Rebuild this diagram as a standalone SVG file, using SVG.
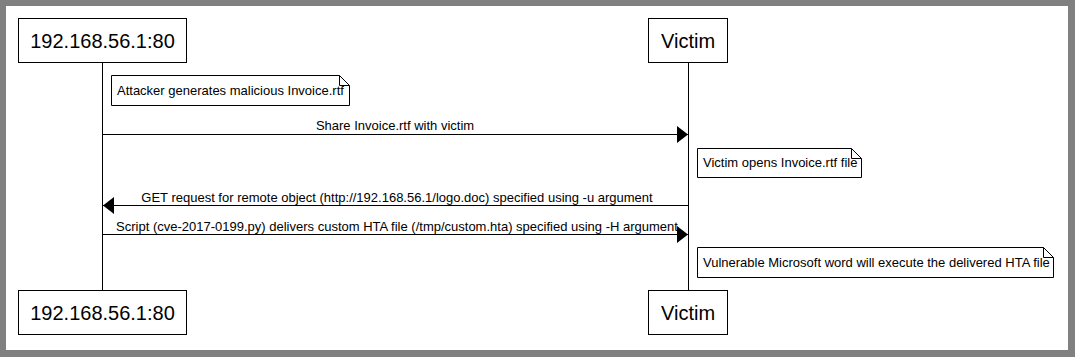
<svg xmlns="http://www.w3.org/2000/svg" width="1075" height="357" viewBox="0 0 1075 357">
<style>
.box{fill:#fff;stroke:#000;stroke-width:1}
.pt{font-family:"Liberation Sans",Arial,sans-serif;font-size:20px;fill:#000;text-anchor:middle}
.lbl{font-family:"Liberation Sans",Arial,sans-serif;font-size:13px;fill:#000}
.life{stroke:#000;stroke-width:1;fill:none}
.msg{stroke:#000;stroke-width:1;fill:none}
.fold{fill:none;stroke:#000;stroke-width:1}
</style>
<defs>
<marker id="ah" viewBox="0 0 11 17" refX="11" refY="8.5" markerWidth="11" markerHeight="17" markerUnits="userSpaceOnUse" orient="auto">
<path d="M0,0 L11,8.5 L0,17 Z" fill="#000"/>
</marker>
</defs>
<rect x="0" y="0" width="1075" height="357" fill="#808080"/>
<rect x="6" y="6" width="1062" height="344" fill="#fff"/>
<g id="lifelines">
<line class="life" x1="102.5" y1="62" x2="102.5" y2="290"/>
<line class="life" x1="688.5" y1="62" x2="688.5" y2="290"/>
</g>
<g id="attacker-top"><rect class="box" x="18.5" y="18.5" width="168" height="44"/><text class="pt" x="102.5" y="47.5">192.168.56.1:80</text></g>
<g id="victim-top"><rect class="box" x="648.5" y="18.5" width="79" height="44"/><text class="pt" x="688" y="47.5">Victim</text></g>
<g id="attacker-bottom"><rect class="box" x="18.5" y="290.5" width="168" height="44"/><text class="pt" x="102.5" y="319.5">192.168.56.1:80</text></g>
<g id="victim-bottom"><rect class="box" x="648.5" y="290.5" width="79" height="44"/><text class="pt" x="688" y="319.5">Victim</text></g>
<g id="note1">
<path class="box" d="M111.5,75.5 H339.5 L349.5,85.5 V105.5 H111.5 Z"/>
<path class="fold" d="M339.5,75.5 V85.5 H349.5"/>
<text class="lbl" x="117" y="95">Attacker generates malicious Invoice.rtf</text>
</g>
<g id="note2">
<path class="box" d="M697.5,148.5 H851.5 L861.5,158.5 V177.5 H697.5 Z"/>
<path class="fold" d="M851.5,148.5 V158.5 H861.5"/>
<text class="lbl" x="703" y="167">Victim opens Invoice.rtf file</text>
</g>
<g id="note3">
<path class="box" d="M697.5,247.5 H1043.5 L1053.5,257.5 V277.5 H697.5 Z"/>
<path class="fold" d="M1043.5,247.5 V257.5 H1053.5"/>
<text class="lbl" x="703" y="267">Vulnerable Microsoft word will execute the delivered HTA file</text>
</g>
<g id="connectors">
<line class="msg" x1="102.5" y1="134.5" x2="688" y2="134.5" marker-end="url(#ah)"/>
<text class="lbl" x="395" y="130" text-anchor="middle">Share Invoice.rtf with victim</text>
<line class="msg" x1="688.5" y1="205.5" x2="103" y2="205.5" marker-end="url(#ah)"/>
<text class="lbl" x="397" y="202" text-anchor="middle">GET request for remote object (http://192.168.56.1/logo.doc) specified using -u argument</text>
<line class="msg" x1="102.5" y1="234.5" x2="688" y2="234.5" marker-end="url(#ah)"/>
<text class="lbl" x="397" y="231" text-anchor="middle">Script (cve-2017-0199.py) delivers custom HTA file (/tmp/custom.hta) specified using -H argument</text>
</g>
</svg>
